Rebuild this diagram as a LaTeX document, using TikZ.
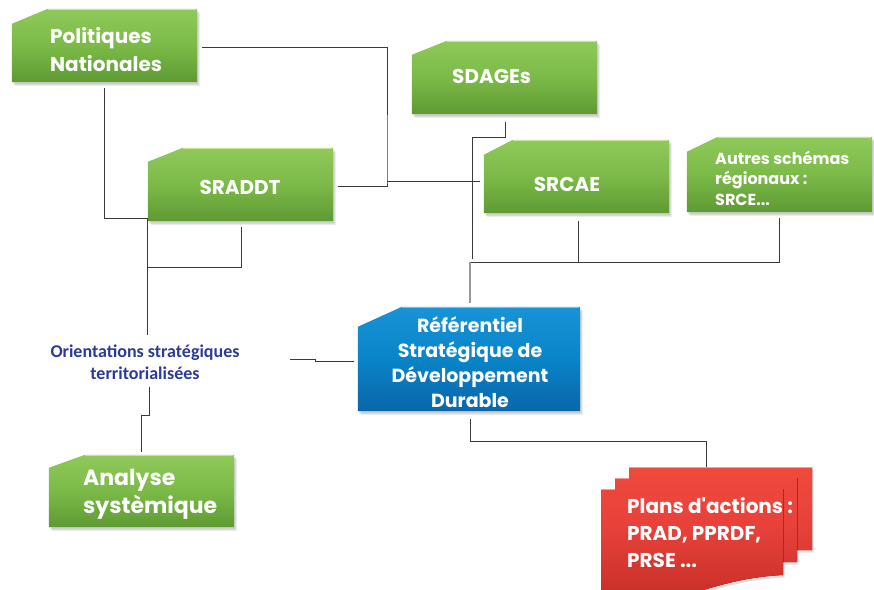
\documentclass[tikz,border=0pt]{standalone}
\usepackage{fontspec}
\setmainfont{Poppins}[Ligatures=TeXOff]
\newfontfamily\calib{Carlito}
\usetikzlibrary{calc}
\pgfdeclarelayer{background}
\pgfsetlayers{background,main}
\definecolor{gtop}{HTML}{8FC95A}
\definecolor{gmid}{HTML}{7BBA48}
\definecolor{gbot}{HTML}{5E9A33}
\definecolor{ghl}{HTML}{C9E78F}
\definecolor{btop}{HTML}{1893D6}
\definecolor{bmid}{HTML}{0884C8}
\definecolor{bbot}{HTML}{0B66A8}
\definecolor{bhl}{HTML}{6CC3EE}
\definecolor{rtop}{HTML}{F04A3E}
\definecolor{rmid}{HTML}{E6403A}
\definecolor{rbot}{HTML}{C83029}
\definecolor{lab}{HTML}{2B3B97}
\definecolor{lin}{HTML}{3A3A3A}
\newcommand\cutshape[4]{%
  \path[#4] ($(#1.north west)+(0,#3)$) -- ($(#1.north west)+(#2,0)$) -- (#1.north east) -- (#1.south east) -- (#1.south west) -- cycle;}
\newcommand\cutbox[4]{%
  \cutshape{#1}{#2}{#3}{shadowA}
  \cutshape{#1}{#2}{#3}{shadowB}
  \cutshape{#1}{#2}{#3}{#4}
  \draw[hl#4] ($(#1.north west)+(#2,0.8)$) -- ($(#1.north east)+(-0.8,0.8)$);}
\tikzset{
  boxnode/.style={inner sep=0pt, minimum width=#1},
  shadowA/.style={fill=black, opacity=0.13, transform canvas={shift={(1.5pt,-2.5pt)}}},
  shadowB/.style={fill=black, opacity=0.07, transform canvas={shift={(3pt,-4pt)}}},
  green/.style={top color=gtop, bottom color=gbot, middle color=gmid},
  blue/.style={top color=btop, bottom color=bbot, middle color=bmid},
  red/.style={top color=rtop, bottom color=rbot, middle color=rmid},
  hlgreen/.style={draw=ghl, line width=1.4pt},
  hlblue/.style={draw=bhl, line width=1.4pt},
  hlred/.style={draw=rtop!55!white, line width=1pt},
  edred/.style={draw=rbot!85!black, line width=0.8pt},
  wtxt/.style={text=white, font=\bfseries, inner sep=0pt},
  conn/.style={draw=lin, line width=0.9pt},
  connl/.style={draw=gray!80, line width=1.1pt},
}
\begin{document}
\begin{tikzpicture}[x=1pt,y=-1pt]
\useasboundingbox (0,0) rectangle (874,589);
% box nodes
\node[boxnode=185pt, minimum height=73pt] (pol) at (104.5,45.5) {};
\node[boxnode=185pt, minimum height=73pt] (sdage) at (504.5,77.5) {};
\node[boxnode=185pt, minimum height=73pt] (sraddt) at (240.5,184.5) {};
\node[boxnode=185pt, minimum height=73pt] (srcae) at (576.5,176.5) {};
\node[boxnode=185pt, minimum height=75pt] (autres) at (779.5,174.5) {};
\node[boxnode=222pt, minimum height=104pt] (ref) at (469,359) {};
\node[boxnode=185pt, minimum height=72pt] (ana) at (141.5,491) {};
\node[boxnode=182pt, minimum height=100pt] (plans) at (692,539) {};
% shapes
\begin{pgfonlayer}{background}
\cutbox{pol}{36}{15}{green}
\cutbox{sdage}{35}{14}{green}
\cutbox{sraddt}{35}{14}{green}
\cutbox{srcae}{29}{15}{green}
\cutbox{autres}{31}{15}{green}
\cutbox{ref}{44}{20}{blue}
\cutbox{ana}{36}{13}{green}
% red stacked pages as one outline
\fill[shadowA] (629,467) -- (812,467) -- (812,550) -- (797,550) -- (797,562) -- (783,562) -- (783,575) .. controls (745,577) and (720,585) .. (690,594) -- (601,594) -- (601,489) -- (615,489) -- (615,478) -- (629,478) -- cycle;
\fill[red] (629,467) -- (812,467) -- (812,550) -- (797,550) -- (797,562) -- (783,562) -- (783,575) .. controls (745,577) and (720,585) .. (690,594) -- (601,594) -- (601,489) -- (615,489) -- (615,478) -- (629,478) -- cycle;
\draw[hlred] (629,467.6) -- (811.5,467.6);
\draw[hlred] (615,478.6) -- (629,478.6);
\draw[hlred] (601,489.6) -- (615,489.6);
\draw[edred] (797,478) -- (797,550);
\draw[edred] (783,489) -- (783,562);
\end{pgfonlayer}
% texts
\node[wtxt, anchor=west, align=left, font=\bfseries\fontsize{20}{28}\selectfont] (pol-t) at (50,50) {Politiques\\Nationales};
\node[wtxt, anchor=west, font=\bfseries\fontsize{20}{24}\selectfont] (sdage-t) at (452,76) {SDAGEs};
\node[wtxt, font=\bfseries\fontsize{20}{24}\selectfont] (sraddt-t) at (240,187) {SRADDT};
\node[wtxt, font=\bfseries\fontsize{20}{24}\selectfont] (srcae-t) at (567,184) {SRCAE};
\node[wtxt, anchor=west, align=left, font=\bfseries\fontsize{16}{20.5}\selectfont] (autres-t) at (715,178) {Autres schémas\\régionaux :\\SRCE...};
\node[wtxt, align=center, font=\bfseries\fontsize{19}{25}\selectfont] (ref-t) at (470,362) {Référentiel\\Stratégique de\\Développement\\Durable};
\node[wtxt, anchor=west, align=left, font=\bfseries\fontsize{22}{28}\selectfont] (ana-t) at (83,494) {Analyse\\systèmique};
\node[wtxt, anchor=west, align=left, font=\bfseries\fontsize{20}{27}\selectfont] (plans-t) at (627,533) {Plans d'actions :\\PRAD, PPRDF,\\PRSE ...};
\node[text=lab, inner sep=0pt, align=center, font=\calib\bfseries\fontsize{18}{22}\selectfont] (orient) at (145,362) {Orientations stratégiques\\territorialisées};
% connectors
\coordinate (ja) at (387,181);
\draw[conn] ($(pol.east)+(5,1.5)$) -| (ja) |- ($(sraddt.east)+(5,1.5)$);
\draw[conn] (ja) -- ($(srcae.west |- ja)+(-4,0)$);
\coordinate (jb) at (147,218);
\draw[conn] ($(pol.south)+(0,6)$) |- (jb) -- ($(orient.north -| jb)+(0,-9)$);
\coordinate (jc) at (147,267);
\draw[conn] ($(sraddt.south)+(0.5,6)$) |- (jc);
\draw[conn] ($(orient.south)+(4,7)$) -- ++(0,29) -| ($(ana.north)+(0,-3)$);
\coordinate (je) at (290,359);
\draw[conn] (je) -- ++(25,0) -- ++(0,2) -- ($(ref.west)+(-4,2)$);
\coordinate (jf) at (472,259);
\draw[conn] ($(sdage.south)+(0.5,8)$) -- ++(0,15) -| (jf);
\coordinate (jg) at (470,262);
\draw[conn] ($(srcae.south)+(1.5,8)$) |- (jg);
\draw[conn] ($(autres.south)+(0,6)$) |- (jg);
\draw[connl] (jg) -- ($(ref.north)+(1,-4)$);
\draw[conn] ($(ref.south)+(1,8)$) -- ++(0,22) -| ($(plans.north)+(14,-22)$);
\end{tikzpicture}
\end{document}
